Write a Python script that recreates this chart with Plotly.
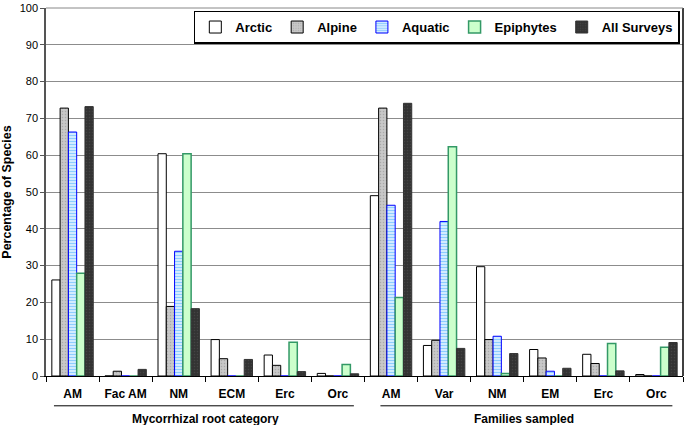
import plotly.graph_objects as go

categories = ["AM", "Fac AM", "NM", "ECM", "Erc", "Orc",
              "AM", "Var", "NM", "EM", "Erc", "Orc"]
group_labels = ["Mycorrhizal root category", "Families sampled"]
cat_ids = [f"m{i}" if i < 6 else f"f{i}" for i in range(len(categories))]

arctic = [26.1, 0, 60.4, 9.9, 5.7, 0.7, 49.0, 8.3, 29.7, 7.2, 5.9, 0.4]
alpine = [72.8, 1.3, 18.9, 4.7, 2.9, 0, 72.8, 9.7, 9.9, 4.9, 3.4, 0]
aquatic = [66.3, 0, 33.9, 0, 0, 0, 46.4, 42.0, 10.8, 1.3, 0, 0]
epiphytes = [27.9, 0, 60.4, 0, 9.2, 3.1, 21.3, 62.3, 0.7, 0, 8.8, 7.8]
all_surveys = [73.2, 1.8, 18.3, 4.5, 1.2, 0.6, 74.1, 7.5, 6.1, 2.1, 1.4, 9.1]
y_ticks = list(range(0, 101, 10))

FONT = "Liberation Sans, Arial, sans-serif"

fig = go.Figure()
fig.add_trace(go.Bar(name="<b>Arctic</b>", x=cat_ids, y=arctic,
                     marker=dict(color="white", line=dict(color="black", width=1))))
fig.add_trace(go.Bar(name="<b>Alpine</b>", x=cat_ids, y=alpine,
                     marker=dict(color="#c0c0c0", line=dict(color="black", width=1),
                                 pattern=dict(shape=".", bgcolor="#c8c8c8", fgcolor="#8a8a8a",
                                              size=3, solidity=0.2))))
fig.add_trace(go.Bar(name="<b>Aquatic</b>", x=cat_ids, y=aquatic,
                     marker=dict(color="white", line=dict(color="#0000ff", width=1),
                                 pattern=dict(shape="-", bgcolor="white", fgcolor="#1e9bff",
                                              size=3, solidity=0.6))))
fig.add_trace(go.Bar(name="<b>Epiphytes</b>", x=cat_ids, y=epiphytes,
                     marker=dict(color="#ccffcc", line=dict(color="#339966", width=1.5))))
fig.add_trace(go.Bar(name="<b>All Surveys</b>", x=cat_ids, y=all_surveys,
                     marker=dict(color="#333333", line=dict(color="#333333", width=1),
                                 pattern=dict(shape=".", bgcolor="#333333", fgcolor="#555555",
                                              size=3, solidity=0.2))))

shapes = [
    dict(type="line", xref="x", yref="paper", x0=-0.35, x1=5.3, y0=-0.081, y1=-0.081,
         line=dict(color="black", width=1)),
    dict(type="line", xref="x", yref="paper", x0=5.8, x1=11.3, y0=-0.081, y1=-0.081,
         line=dict(color="black", width=1)),
    dict(type="line", xref="paper", yref="paper", x0=1, x1=1, y0=0, y1=1,
         line=dict(color="black", width=1.5)),
    dict(type="line", xref="paper", yref="paper", x0=0, x1=1, y0=1, y1=1,
         line=dict(color="#888888", width=1)),
]
annotations = [
    dict(text="<b>" + group_labels[0] + "</b>", x=2.5, xref="x", y=-0.116, yref="paper",
         showarrow=False, font=dict(family=FONT, size=12, color="black"), yanchor="middle"),
    dict(text="<b>" + group_labels[1] + "</b>", x=8.5, xref="x", y=-0.116, yref="paper",
         showarrow=False, font=dict(family=FONT, size=12, color="black"), yanchor="middle"),
]

fig.update_layout(
    width=685, height=425,
    margin=dict(l=46, r=2, t=5, b=49),
    paper_bgcolor="white", plot_bgcolor="white",
    barmode="group", bargap=0.22, bargroupgap=0,
    font=dict(family=FONT, size=11, color="black"),
    shapes=shapes, annotations=annotations,
    legend=dict(orientation="h", x=0.995, xanchor="right", y=0.993, yanchor="top",
                bordercolor="black", borderwidth=1.5, bgcolor="white",
                font=dict(family=FONT, size=13, color="black"),
                traceorder="normal"),
    xaxis=dict(type="category", tickvals=cat_ids,
               ticktext=["<b>" + c + "</b>" for c in categories],
               tickson="boundaries", ticks="outside", ticklen=5, tickcolor="black",
               ticklabelstandoff=7,
               showline=True, linecolor="black", linewidth=1, mirror=False,
               showgrid=False, tickfont=dict(family=FONT, size=12),
               range=[-0.5, 11.5]),
    yaxis=dict(range=[0, 100], tickvals=y_ticks, ticktext=[str(v) for v in y_ticks],
               ticklabeloverflow="allow",
               ticks="outside", ticklen=4, tickcolor="#555555",
               showline=True, linecolor="#555555", linewidth=1.5,
               showgrid=True, gridcolor="#8c8c8c", gridwidth=1,
               zeroline=False, tickfont=dict(family=FONT, size=11, color="black"),
               title=dict(text="<b>Percentage of Species</b>",
                          font=dict(family=FONT, size=12.5), standoff=6)),
)

fig.write_html("out.html", config={"displayModeBar": False},
               post_script="document.body.style.margin='0';")
